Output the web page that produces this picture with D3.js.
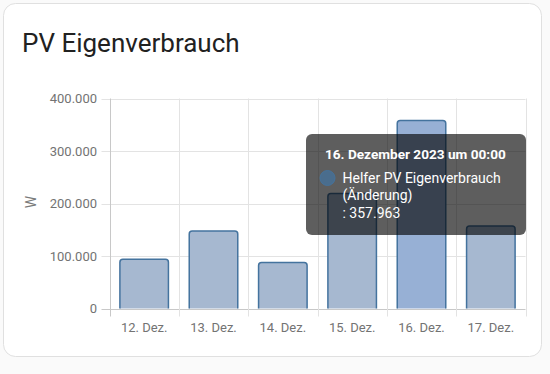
<!DOCTYPE html>
<html>
<head>
<meta charset="utf-8">
<script src="https://cdn.jsdelivr.net/npm/d3@7"></script>
<style>
  html, body { margin: 0; padding: 0; background: #fafafa; }
  body { width: 550px; height: 374px; overflow: hidden; font-family: Roboto, sans-serif; }
</style>
</head>
<body>
<div id="the_chart"></div>
<script>
// values
var days = ["12. Dez.", "13. Dez.", "14. Dez.", "15. Dez.", "16. Dez.", "17. Dez."];
var values = [93900, 147800, 87600, 219000, 357963, 157300];
var yTicks = [0, 100000, 200000, 300000, 400000];
var hovered = 4;
var tooltipTitle = "16. Dezember 2023 um 00:00";
var tooltipLines = ["Helfer PV Eigenverbrauch", "(Änderung)", ": 357.963"];

var w = 550, h = 374;
var de = d3.formatLocale({ decimal: ",", thousands: ".", grouping: [3], currency: ["", " €"] });
var fmt = de.format(",d");

var svg = d3.select("#the_chart")
    .append("svg")
    .attr("width", w)
    .attr("height", h)
    .style("font-family", "Roboto, sans-serif");

// card
svg.append("rect")
    .attr("x", 3.5).attr("y", 3.5)
    .attr("width", 538).attr("height", 353)
    .attr("rx", 12)
    .attr("fill", "white")
    .attr("stroke", "#e0e0e0");

svg.append("text")
    .attr("x", 22).attr("y", 52)
    .attr("font-size", 26)
    .attr("fill", "#212121")
    .text("PV Eigenverbrauch");

var plotLeft = 109.5, plotRight = 525.5, plotTop = 98.5, plotBottom = 308.5;

var xscale = d3.scaleBand()
    .domain(days)
    .range([plotLeft, plotRight]);

var yscale = d3.scaleLinear()
    .domain([0, 400000])
    .range([plotBottom, plotTop]);

// horizontal grid
svg.append("g")
    .selectAll("line")
    .data(yTicks)
    .enter().append("line")
    .attr("x1", plotLeft - 8).attr("x2", plotRight)
    .attr("y1", d => Math.round(yscale(d)) + 0.5)
    .attr("y2", d => Math.round(yscale(d)) + 0.5)
    .attr("stroke", d => d == 0 ? "#c8c8c8" : "#e3e3e3");

// vertical grid (category borders)
var borders = days.map(d => xscale(d)).concat([plotRight]);
svg.append("g")
    .selectAll("line")
    .data(borders)
    .enter().append("line")
    .attr("x1", d => Math.round(d) + 0.5).attr("x2", d => Math.round(d) + 0.5)
    .attr("y1", plotTop).attr("y2", plotBottom + 8)
    .attr("stroke", (d, i) => i == 0 ? "#c8c8c8" : "#e3e3e3");

// y tick labels
svg.append("g")
    .selectAll("text")
    .data(yTicks)
    .enter().append("text")
    .attr("x", 97)
    .attr("y", d => yscale(d))
    .attr("dy", "0.35em")
    .attr("text-anchor", "end")
    .attr("font-size", 13)
    .attr("fill", "#737373")
    .text(d => fmt(d));

// x tick labels
svg.append("g")
    .selectAll("text")
    .data(days)
    .enter().append("text")
    .attr("x", d => xscale(d) + xscale.bandwidth() / 2)
    .attr("y", 332)
    .attr("text-anchor", "middle")
    .attr("font-size", 13)
    .attr("fill", "#737373")
    .text(d => d);

// axis title
svg.append("text")
    .attr("transform", "translate(36,202) rotate(-90)")
    .attr("text-anchor", "middle")
    .attr("font-size", 14)
    .attr("fill", "#7a7a7a")
    .text("W");

// bars with rounded tops
var bw = xscale.bandwidth() * 0.7;
function barPath(d, i) {
    var x0 = xscale(days[i]) + (xscale.bandwidth() - bw) / 2;
    var x1 = x0 + bw;
    var y0 = yscale(d), yb = plotBottom, r = 3;
    return "M" + x0 + "," + yb + "V" + (y0 + r) + "Q" + x0 + "," + y0 + " " + (x0 + r) + "," + y0 +
        "H" + (x1 - r) + "Q" + x1 + "," + y0 + " " + x1 + "," + (y0 + r) + "V" + yb;
}
svg.append("g")
    .selectAll("path")
    .data(values)
    .enter().append("path")
    .attr("d", barPath)
    .attr("fill", (d, i) => i == hovered ? "#97b0d5" : "#a6b8d0")
    .attr("stroke", "#44739e")
    .attr("stroke-width", 1.5);

// tooltip
var tip = svg.append("g");
tip.append("rect")
    .attr("x", 306).attr("y", 134)
    .attr("width", 220).attr("height", 101)
    .attr("rx", 6)
    .attr("fill", "rgba(0,0,0,0.63)");
tip.append("text")
    .attr("x", 325).attr("y", 159)
    .attr("font-size", 13.6)
    .attr("font-weight", "bold")
    .attr("fill", "white")
    .text(tooltipTitle);
tip.append("circle")
    .attr("cx", 327.5).attr("cy", 178)
    .attr("r", 7.5)
    .attr("fill", "rgba(68,115,158,0.75)")
    .attr("stroke", "rgba(68,115,158,0.9)");
tip.selectAll("text.line")
    .data(tooltipLines)
    .enter().append("text")
    .attr("class", "line")
    .attr("x", 342.5)
    .attr("y", (d, i) => 182.5 + i * 17.5)
    .attr("font-size", 14)
    .attr("fill", "white")
    .text(d => d);
</script>
</body>
</html>
